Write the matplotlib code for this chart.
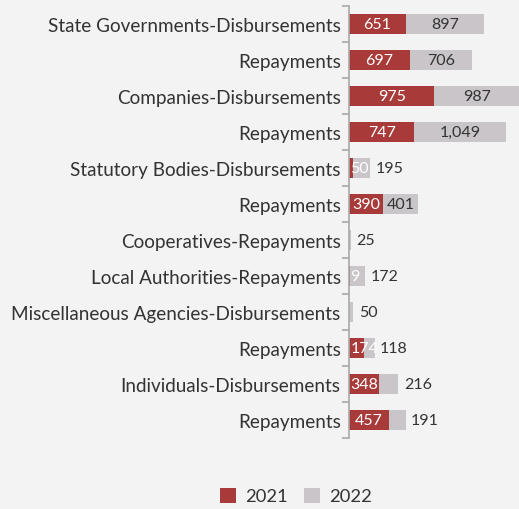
import numpy as np
import matplotlib.pyplot as plt

# data
categories = [
    "State Governments-Disbursements", "Repayments",
    "Companies-Disbursements", "Repayments",
    "Statutory Bodies-Disbursements", "Repayments",
    "Cooperatives-Repayments",
    "Local Authorities-Repayments",
    "Miscellaneous Agencies-Disbursements", "Repayments",
    "Individuals-Disbursements", "Repayments",
]
values_2021 = [651, 697, 975, 747, 50, 390, 0, 9, 0, 174, 348, 457]
values_2022 = [897, 706, 987, 1049, 195, 401, 25, 172, 50, 118, 216, 191]
series_names = ["2021", "2022"]

RED = "#a93a3a"
GREY = "#cac5c8"
BG = "#f3f3f3"
TXT = "#333333"

plt.rcParams['font.family'] = ['Lato', 'DejaVu Sans']

fig = plt.figure(figsize=(5.19, 5.10), dpi=100, facecolor=BG)
# axes runs from the spine to the right edge of the figure
ax = fig.add_axes([349 / 519, 1 - 439 / 510, 170 / 519, 432 / 510])
ax.set_facecolor(BG)

n = len(categories)
y = np.arange(n)
h = 0.58
v21 = np.array(values_2021)
v22 = np.array(values_2022)
xmax = 1946
px = xmax / 170.0  # data units per pixel

ax.barh(y, v21, height=h, color=RED, label=series_names[0])
ax.barh(y, v22, left=v21, height=h, color=GREY, label=series_names[1])

ax.set_ylim(n - 0.5, -0.5)
ax.set_xlim(0, xmax)

# value labels
fs = 11.5
for i in range(n):
    a, b = v21[i], v22[i]
    if a > 0:
        if a / px > 30:
            ax.text(a / 2, i, f"{a:,}", color="white", ha="center", va="center", fontsize=fs)
        else:
            ax.text(1.5 * px, i, f"{a:,}", color="white", ha="left", va="center", fontsize=fs)
    if b > 0:
        if b / px > 30:
            ax.text(a + b / 2, i, f"{b:,}", color=TXT, ha="center", va="center", fontsize=fs)
        else:
            ax.text(a + b + 5.5 * px, i, f"{b:,}", color=TXT, ha="left", va="center", fontsize=fs)

# axis styling
for s in ["top", "right", "bottom"]:
    ax.spines[s].set_visible(False)
ax.spines["left"].set_color("#a9a9a9")
ax.spines["left"].set_linewidth(1.2)
ax.set_xticks([])
ax.set_yticks(y)
ax.set_yticklabels(categories, fontsize=13.6, color=TXT)
ax.tick_params(axis="y", which="major", length=0, pad=6)
ax.set_yticks(np.arange(n + 1) - 0.5, minor=True)
ax.tick_params(axis="y", which="minor", length=5, width=1.2, color="#a9a9a9")

fig.legend(loc="center", bbox_to_anchor=(296 / 519, 1 - 497 / 510), ncol=2, frameon=False,
           fontsize=13.2, handlelength=0.9, handleheight=0.9, handletextpad=0.5,
           columnspacing=0.85, labelcolor=TXT)

fig.savefig("out.png", dpi=100, facecolor=BG)
